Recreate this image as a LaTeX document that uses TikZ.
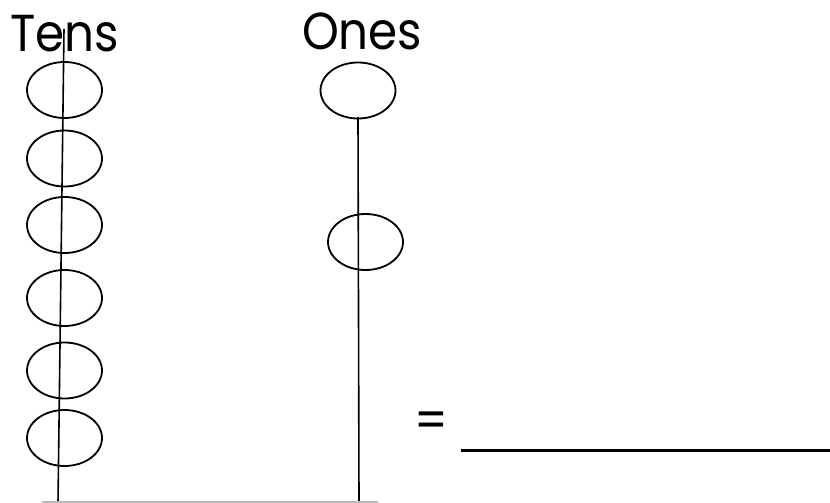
\documentclass[tikz,border=0pt]{standalone}
\usepackage{fontspec}
\setmainfont{Poppins}
\usetikzlibrary{shapes.geometric}
\begin{document}
\begin{tikzpicture}[x=1pt,y=-1pt,
  bead/.style={draw=black,line width=1.8pt,ellipse,minimum width=75pt,minimum height=56pt,inner sep=0pt},
  rod/.style={draw=black,line width=1.6pt},
  label/.style={font=\fontsize{52}{56}\selectfont,inner sep=0pt,xscale=0.9}]
\useasboundingbox (0,0) rectangle (830,503);
\fill[white] (0,0) rectangle (830,503);
% rods
\coordinate (ttop) at (64,29);
\coordinate (tbot) at (58,503);
\coordinate (otop) at (358,117);
\coordinate (obot) at (359,503);
% tens beads
\foreach \i/\y in {1/90,2/158.5,3/225,4/298,5/370.5,6/438}
  \node[bead] (t\i) at (64.5,\y) {};
% ones beads
\node[bead] (o1) at (358,90.5) {};
\node[bead] (o2) at (365.5,242) {};
\draw[rod] (ttop) -- (tbot);
\draw[rod] (otop) -- (obot);
% base line
\coordinate (b1) at (42,502);
\coordinate (b2) at (378,502);
\draw[line width=1.5pt,color=black!28] (b1) -- (b2);
% labels
\node[label,anchor=base west] (tens) at (10,52) {Tens};
\node[label,anchor=base west] (ones) at (302,50) {Ones};
\node[label] (eq) at (431,425.5) {=};
\coordinate (u1) at (461,450);
\coordinate (u2) at (830,450);
\draw[line width=3pt] (u1) -- (u2);
\end{tikzpicture}
\end{document}
